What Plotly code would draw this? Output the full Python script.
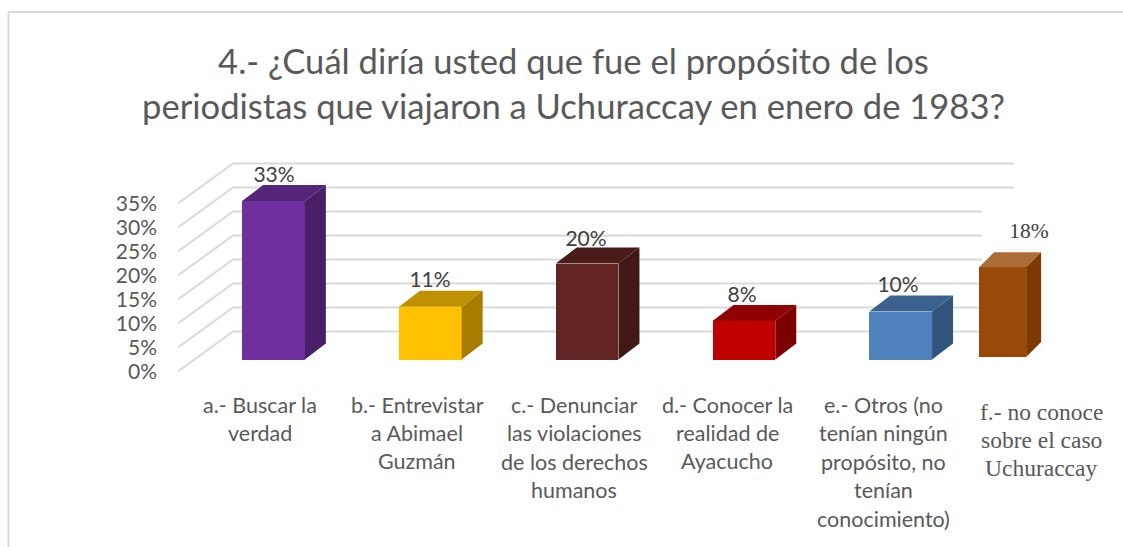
import plotly.graph_objects as go

# ---- data ----
title_text = "4.- ¿Cuál diría usted que fue el propósito de los<br>periodistas que viajaron a Uchuraccay en enero de 1983?"
values = [33, 11, 20, 8, 10, 18]
value_labels = ["33%", "11%", "20%", "8%", "10%", "18%"]
category_lines = [
    ["a.- Buscar la", "verdad"],
    ["b.- Entrevistar", "a Abimael", "Guzmán"],
    ["c.- Denunciar", "las violaciones", "de los derechos", "humanos"],
    ["d.- Conocer la", "realidad de", "Ayacucho"],
    ["e.- Otros (no", "tenían ningún", "propósito, no", "tenían", "conocimiento)"],
    ["f.- no conoce", "sobre el caso", "Uchuraccay"],
]
y_ticks = [0, 5, 10, 15, 20, 25, 30, 35]
y_tick_labels = ["0%", "5%", "10%", "15%", "20%", "25%", "30%", "35%"]

# ---- style and layout ----
W, H = 1123, 547
LEFT = 158
PX_CAT = 156.8      # pixels per category slot
PX_CENTER0 = 273.5  # pixel centre of the first bar
PX_PCT = 4.8        # pixels per percentage point
PY_ZERO = 371.5     # pixel row of 0 %

SANS = "Lato, Carlito, Calibri, sans-serif"
SERIF = "Liberation Serif, Times New Roman, serif"
TXT = "#595959"
GRID = "#D9D9D9"

bar_slots = [0, 1, 2, 3, 4, 4.65]
bar_widths = [0.40, 0.40, 0.40, 0.40, 0.40, 0.30]
bar_bases = [2.5, 2.5, 2.5, 2.5, 2.5, 3.0]
bar_stretch = [1, 1, 1, 1, 1, 1.04]
side_dx = [21, 21, 21, 21, 21, 15]
side_dy = [16, 16, 16, 16, 16, 15]
front_colors = ["#7030A0", "#FFC000", "#632523", "#C00000", "#4F81BD", "#984807"]
top_colors = ["#55257A", "#BF9000", "#4A1B1A", "#900000", "#3B618E", "#AD6B38"]
side_colors = ["#482068", "#A67D00", "#401816", "#7D0000", "#33547B", "#7C3A02"]
label_px = [274, 430, 586, 742, 898, 1029]
label_rise = [24.5, 24.5, 23, 24, 24.5, 35]
label_fonts = [SANS] * 5 + [SERIF]
label_sizes = [21, 21, 21, 21, 21, 21.5]
cat_center_px = [260, 417, 574, 727, 883, 1041]
cat_first_py = [404.5, 404.5, 404.5, 404.5, 404.5, 411.5]
cat_step_py = [28, 28, 28.5, 28, 28.5, 28]
cat_fonts = [SANS] * 5 + [SERIF]
cat_sizes = [21.5, 21.5, 21.5, 21.5, 21.5, 23.5]
grid_end_px = [982, 982, 982, 982, 982, 982, 1014, 1014]


def sx(px):
    return (px - PX_CENTER0) / PX_CAT


def sy(n_px):
    return n_px / PX_PCT


def paper_x(px):
    return (px - LEFT) / (W - LEFT)


def paper_y(py):
    return 1 - py / H


fig = go.Figure()

# front faces
fig.add_trace(go.Bar(
    x=bar_slots,
    y=[v * s for v, s in zip(values, bar_stretch)],
    base=bar_bases,
    width=bar_widths,
    marker=dict(color=front_colors, line=dict(width=0)),
    hoverinfo="skip",
))

# top and side faces, derived from the same values
for i, v in enumerate(values):
    x0 = bar_slots[i] - bar_widths[i] / 2
    x1 = bar_slots[i] + bar_widths[i] / 2
    bot = bar_bases[i]
    top = bot + v * bar_stretch[i]
    dx, dy = side_dx[i] / PX_CAT, sy(side_dy[i])
    fig.add_trace(go.Scatter(
        x=[x0, x1, x1 + dx, x0 + dx, x0], y=[top, top, top + dy, top + dy, top],
        mode="lines", fill="toself", fillcolor=top_colors[i],
        line=dict(width=0), hoverinfo="skip",
    ))
    fig.add_trace(go.Scatter(
        x=[x1, x1 + dx, x1 + dx, x1, x1], y=[bot, bot + dy, top + dy, top, bot],
        mode="lines", fill="toself", fillcolor=side_colors[i],
        line=dict(width=0), hoverinfo="skip",
    ))

# value labels
fig.add_trace(go.Scatter(
    x=[sx(p) for p in label_px],
    y=[b + v * s + sy(r) for b, v, s, r in zip(bar_bases, values, bar_stretch, label_rise)],
    mode="text", text=value_labels, textposition="middle center",
    textfont=dict(family=label_fonts, size=label_sizes, color="#404040"),
    hoverinfo="skip",
))

# gridlines (oblique floor section + back wall) behind the bars
shapes = []
for tick, end in zip(y_ticks, grid_end_px):
    shapes.append(dict(
        type="path", layer="below", xref="x", yref="y",
        path=f"M {sx(178)} {tick} L {sx(233)} {tick + sy(40)} L {sx(end)} {tick + sy(40)}",
        line=dict(color=GRID, width=2),
    ))
# chart frame
shapes.append(dict(type="line", xref="paper", yref="paper", layer="below",
                   x0=paper_x(8.5), x1=paper_x(8.5), y0=paper_y(12), y1=paper_y(H),
                   line=dict(color=GRID, width=2)))
shapes.append(dict(type="line", xref="paper", yref="paper", layer="below",
                   x0=paper_x(8.5), x1=paper_x(W), y0=paper_y(12), y1=paper_y(12),
                   line=dict(color=GRID, width=2)))

# category labels
annotations = []
for i, lines in enumerate(category_lines):
    for j, line in enumerate(lines):
        annotations.append(dict(
            text=line, showarrow=False, xref="paper", yref="paper",
            x=paper_x(cat_center_px[i]), y=paper_y(cat_first_py[i] + j * cat_step_py[i]),
            xanchor="center", yanchor="middle",
            font=dict(family=cat_fonts[i], size=cat_sizes[i], color=TXT),
        ))

# title
annotations.append(dict(
    text=title_text, showarrow=False, xref="paper", yref="paper",
    x=paper_x(573), y=paper_y(83), xanchor="center", yanchor="middle", align="center",
    font=dict(family=SANS, size=34.6, color=TXT),
))

fig.update_layout(
    width=W, height=H, autosize=False,
    margin=dict(l=LEFT, r=0, t=0, b=0, pad=0),
    paper_bgcolor="white", plot_bgcolor="white",
    showlegend=False, hovermode=False, bargap=0,
    xaxis=dict(range=[sx(LEFT), sx(W)], visible=False, fixedrange=True),
    yaxis=dict(
        range=[(PY_ZERO - H) / PX_PCT, PY_ZERO / PX_PCT],
        tickmode="array", tickvals=y_ticks, ticktext=y_tick_labels,
        showgrid=False, zeroline=False, showline=False, ticks="",
        tickfont=dict(family=SANS, size=21, color=TXT), fixedrange=True,
    ),
    shapes=shapes, annotations=annotations,
)

fig.write_html("out.html", config=dict(displayModeBar=False),
               post_script="document.body.style.margin='0';")
